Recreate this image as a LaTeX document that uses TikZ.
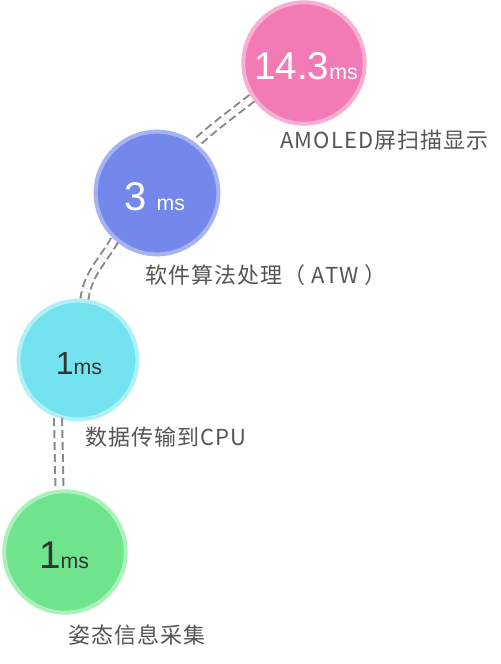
\documentclass[tikz,border=0pt]{standalone}
\usepackage{fontspec}
\setmainfont{Noto Sans CJK SC}
\newfontfamily\numfont{Liberation Sans}
\definecolor{pinkf}{HTML}{F27BB6}
\definecolor{pinkg}{HTML}{F8AFD3}
\definecolor{bluef}{HTML}{7488EB}
\definecolor{blueg}{HTML}{A6B3F3}
\definecolor{cyanf}{HTML}{74E3EF}
\definecolor{cyang}{HTML}{AEF1F7}
\definecolor{greenf}{HTML}{6FE48C}
\definecolor{greeng}{HTML}{AAF2BA}
\definecolor{labelc}{HTML}{555555}
\definecolor{connc}{HTML}{8A8A8A}
\definecolor{darkt}{HTML}{333333}
\tikzset{
  bubble/.style={circle, minimum size=#1, inner sep=0pt, line width=3pt},
  lbl/.style={anchor=west, text=labelc, font=\fontsize{16.5}{18}\selectfont\addfontfeature{LetterSpace=5}, inner sep=0pt},
  conn/.style={draw=connc, line width=1.5pt, dash pattern=on 6pt off 3pt, double=white, double distance=4.5pt},
  ntext/.style={inner sep=0pt, font=\numfont},
}
\newcommand{\bignum}[2]{{\fontsize{#1}{#1}\selectfont #2}}
\begin{document}
\begin{tikzpicture}[x=0.75pt,y=-0.75pt]
\useasboundingbox[fill=white] (0,0) rectangle (500,664);
% circles
\node[bubble=91pt, fill=pinkf, draw=pinkg] (pink) at (304,63) {};
\node[bubble=92pt, fill=bluef, draw=blueg] (blue) at (157,193) {};
\node[bubble=89pt, fill=cyanf, draw=cyang] (cyan) at (78,360) {};
\node[bubble=91pt, fill=greenf, draw=greeng] (green) at (65,552) {};
% texts in circles
\node[ntext, text=white] (t1) at (306,66) {\bignum{29}{14.3}\bignum{16}{ms}};
\node[ntext, text=white] (t2) at (155,197) {\bignum{30}{3}\hspace{7pt}\bignum{16}{ms}};
\node[ntext, text=darkt] (t3) at (79,364) {\bignum{24}{1}\bignum{16}{ms}};
\node[ntext, text=darkt] (t4) at (64,555) {\bignum{29}{1}\bignum{16}{ms}};
% connectors
\draw[conn] (pink.214) to[out=218,in=42] (blue.52);
\draw[conn] (blue.228) to[out=240,in=82] (cyan.84);
\draw[conn] (cyan.251) -- (green.95);
% labels
\node[lbl] (l1) at (280,140) {AMOLED屏扫描显示};
\node[lbl] (l2) at (145,275) {软件算法处理（ ATW ）};
\node[lbl] (l3) at (85,437) {数据传输到CPU};
\node[lbl] (l4) at (68,635) {姿态信息采集};
\end{tikzpicture}
\end{document}
